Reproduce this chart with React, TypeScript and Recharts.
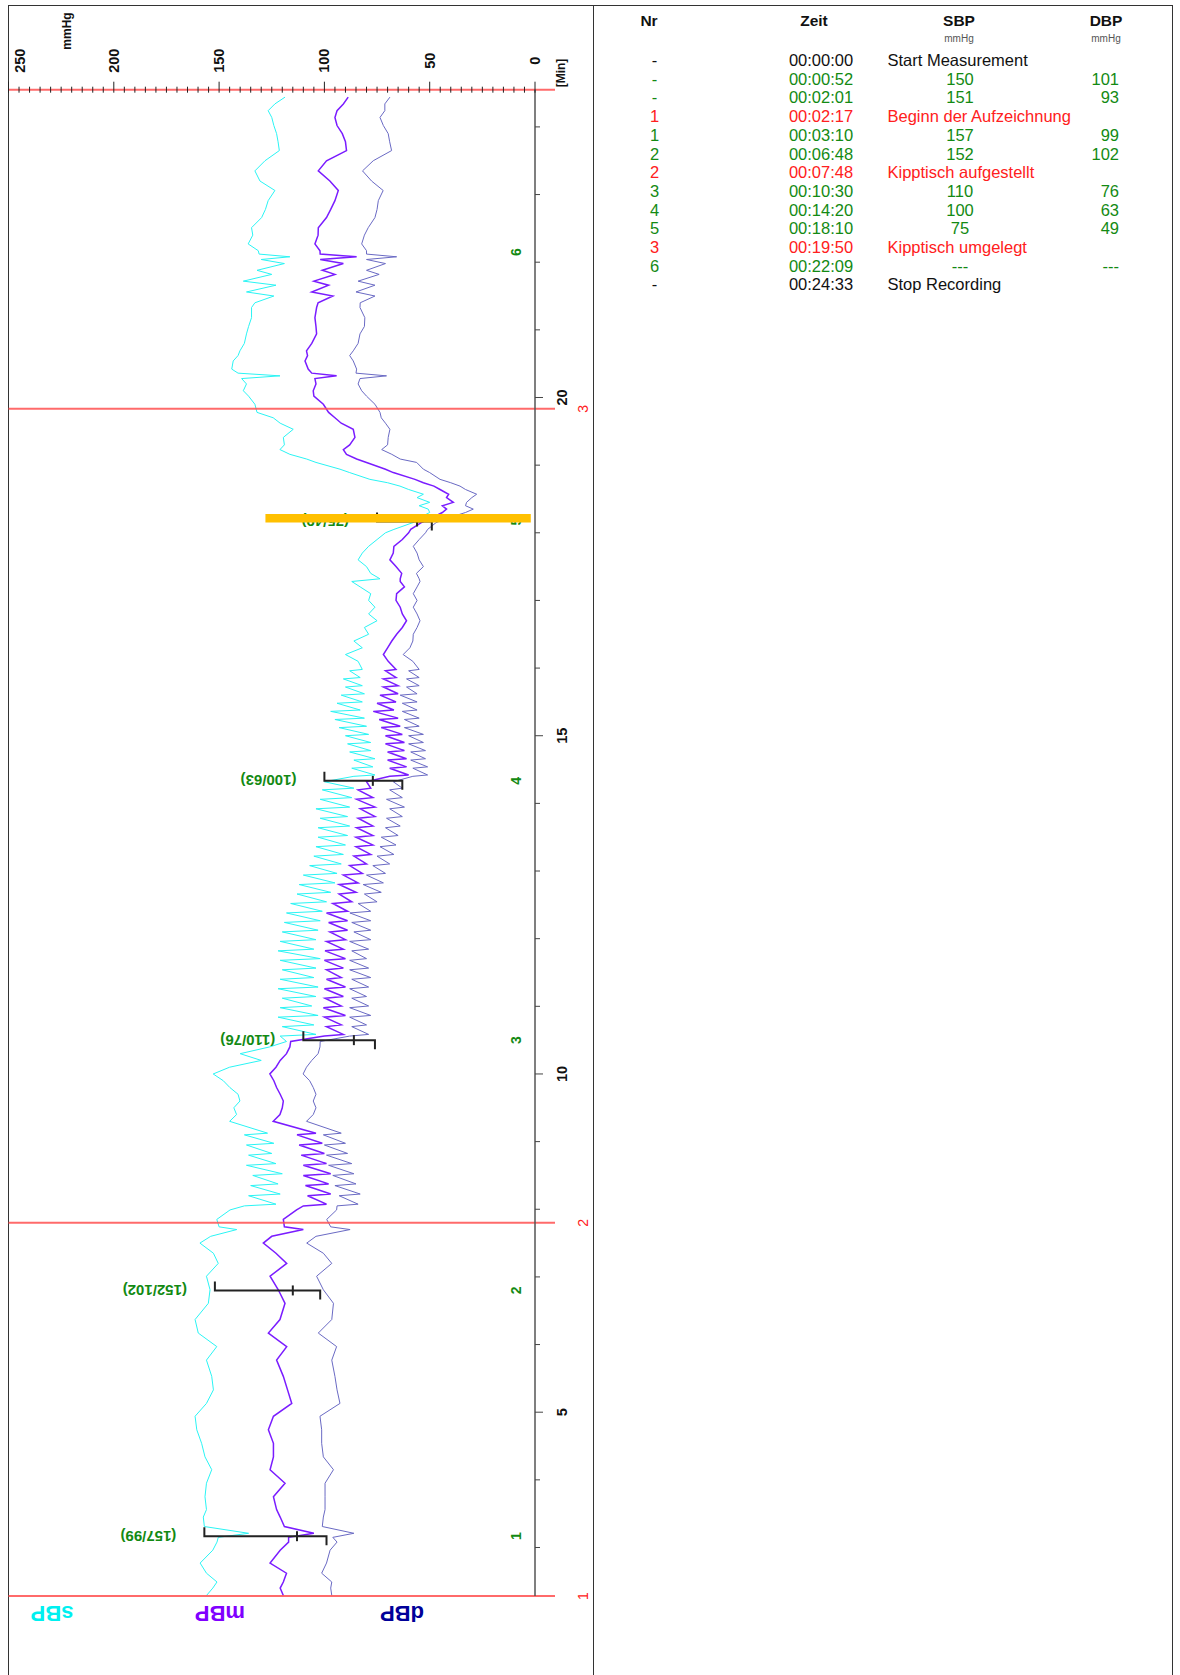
import React from "react";
import {
  ComposedChart,
  Line,
  XAxis,
  YAxis,
  ReferenceLine,
  ReferenceDot,
  Legend,
} from "recharts";

const FONT = '"Liberation Sans", Arial, Helvetica, sans-serif';
const GREEN = "#138a13";
const RED = "#ff2020";

// minutes since start of measurement
const TIME = [
  // 2.3 - 8 min, lying
  2.29, 2.4, 2.49, 2.62, 2.77, 2.96, 3.08, 3.15, 3.21, 3.31,
  3.45, 3.56, 3.75, 3.95, 4.15, 4.34, 4.54, 4.74, 4.94, 5.13,
  5.33, 5.53, 5.77, 5.97, 6.17, 6.37, 6.61, 6.81, 7.01, 7.2,
  7.35, 7.5, 7.6, 7.7, 7.74, 7.85, 7.99,
  // tilt table up
  8.05, 8.075, 8.2, 8.225, 8.35, 8.375, 8.5, 8.525, 8.65, 8.675,
  8.8, 8.825, 8.95, 8.975, 9.1, 9.125, 9.3, 9.4, 9.5, 9.6,
  9.7, 9.8, 9.9, 10, 10.1, 10.2, 10.3, 10.4, 10.48,
  10.56, 10.585, 10.7, 10.725, 10.84, 10.865, 10.98, 11.005, 11.12, 11.145,
  11.26, 11.285, 11.4, 11.425, 11.54, 11.565, 11.68, 11.705, 11.82, 11.845,
  11.96, 11.985, 12.1, 12.125, 12.24, 12.265, 12.38, 12.405, 12.52, 12.545,
  12.66, 12.685, 12.8, 12.825, 12.94, 12.965, 13.08, 13.105, 13.22, 13.245,
  13.36, 13.385, 13.5, 13.525, 13.64, 13.665, 13.78, 13.805, 13.92, 13.945,
  14.06, 14.085, 14.2, 14.225, 14.32,
  14.4, 14.42, 14.52, 14.54, 14.64, 14.66, 14.76, 14.78, 14.88, 14.9,
  15, 15.02, 15.12, 15.14, 15.24, 15.26, 15.36, 15.38, 15.48, 15.5,
  15.6, 15.62, 15.72, 15.74, 15.84, 15.86, 15.96, 15.98,
  16.1, 16.2, 16.3, 16.4, 16.5, 16.6, 16.7, 16.8, 16.9, 17,
  17.1, 17.2, 17.28, 17.32, 17.4, 17.5, 17.6, 17.7, 17.8, 17.9,
  18,
  18.05, 18.15, 18.22, 18.3, 18.35, 18.4, 18.45, 18.52, 18.57, 18.64,
  18.69, 18.74, 18.79, 18.89, 18.94, 19.04, 19.09,
  19.16, 19.23, 19.3, 19.41, 19.53, 19.62, 19.7, 19.78, 19.9, 20.02,
  20.1, 20.2, 20.28, 20.32, 20.36, 20.42, 20.54, 20.62, 20.69, 20.8,
  20.94, 21.05, 21.18, 21.33,
  // signal dropouts
  21.36, 21.4, 21.5, 21.53, 21.56, 21.66, 21.69, 21.72, 21.82, 21.85,
  21.88, 21.98, 22.01, 22.04, 22.08, 22.1,
  22.12, 22.17, 22.27, 22.4, 22.51, 22.66, 22.78, 22.91, 23.06, 23.2,
  23.35, 23.5, 23.65, 23.78, 23.9, 24.02, 24.14, 24.24, 24.34, 24.44,
];

const SBP = [
  156, 153, 151, 156, 159, 153, 151, 150.4, 136, 157,
  157.5, 156, 156.7, 156, 153.5, 156.7, 158.3, 160.6, 161.4, 156,
  152.7, 153.5, 156, 151.1, 159.9, 161.4, 155.1, 154.3, 156, 150.4,
  152.7, 159.1, 154, 141.6, 150, 151.1, 144.8,
  138, 123, 136, 121, 135, 122, 134, 120, 137, 123,
  136, 125, 137, 124, 138, 127, 145, 141.7, 143, 140.1,
  141, 144.9, 148, 152.8, 145, 130, 140, 126, 118,
  121, 104, 120, 105, 122, 103, 121, 106, 120, 104,
  122, 103, 121, 105, 120, 104, 121, 102, 122, 105,
  121, 104, 120, 103, 119, 102, 118, 101, 116, 99,
  113, 97, 112, 95, 110, 94, 107, 92, 105, 91,
  104, 90, 103, 89, 103, 88, 102, 89, 104, 88,
  102, 87, 101, 86, 100,
  86, 76, 87, 77, 86, 76, 88, 78, 89, 78,
  90, 79, 93, 80, 95, 81, 97, 83, 94, 82,
  92, 81, 90, 82, 91, 83, 88, 82,
  84, 90, 82, 86, 79, 81, 75, 79, 76, 79,
  78, 83, 87, 73.6, 78, 80, 84, 82, 79, 75,
  71,
  67, 58, 55, 50, 50.7, 55, 50, 56, 53, 60,
  64.1, 70, 78.4, 88, 92.6, 104, 108.4,
  116.4, 121.1, 119, 119.5, 114.8, 121, 124.3, 132, 133, 136,
  138.5, 137, 139.3, 121.1, 141, 144, 143.3, 141, 140.1, 138,
  137, 136, 134.6, 134.6,
  null, 133, 124, null, 137, 123, null, 138.5, 125, null,
  132, 119, null, 130, 116.4, null,
  131, 131.4, 136.2, 134, 134.6, 129.8, 128, 126.7, 123.5, 130.6,
  133, 128.2, 121.4, 122, 122.7, 124, 125, 126.7, 123.5, 118.7,
];

const MBP = [
  119.5, 121, 119.5, 118, 125.8, 121, 117, 117, 105, 119,
  121, 122.7, 124.2, 118.7, 125.8, 124.2, 124.2, 126.6, 124.2, 115.5,
  117.5, 119.5, 122.7, 117.9, 126.6, 121.1, 118.7, 121.9, 125.8, 117.9,
  123, 129, 125, 110, 119, 119.5, 113.2,
  110, 99, 108, 97, 109, 98, 110, 97, 110, 99,
  111, 100, 112, 101, 113, 104, 124.3, 121.1, 120, 119.5,
  121, 122.7, 124, 125.9, 123, 121, 118, 116.4, 116,
  100, 91, 99, 92, 100, 90, 100.5, 92, 99.7, 91,
  100, 90, 99, 92, 99, 91, 100, 90, 99.7, 91,
  99, 90, 97.4, 89, 98, 89, 99, 89, 96, 87,
  93, 85, 93, 84, 91, 82, 88, 80, 86, 78,
  85, 77, 85, 77, 84.7, 77, 84, 76, 83, 76,
  84.7, 77, 84, 78, 80,
  69, 60, 69, 61, 70, 61, 70, 62, 71, 62,
  71, 63, 73, 64, 74, 65, 76.8, 67, 75, 66,
  73.6, 65, 72, 65, 72, 66, 71, 66,
  69.7, 72, 70, 68, 65.7, 63, 61, 63, 64, 66,
  65.7, 62, 64, 64, 63.3, 66, 68.9, 67.3, 67, 63,
  60,
  59, 54, 49, 44, 42, 44, 38.8, 42, 41, 45.1,
  48, 53, 57, 67.3, 71, 80, 84.7,
  89.5, 91, 88, 85.5, 86.3, 92, 95, 98, 100.5, 105,
  105.3, 104, 104.5, 94.2, 106, 107.7, 109.2, 108, 108.5, 106,
  103.7, 104, 104.5, 103.7,
  null, 103, 96, null, 106, 98, null, 105, 95, null,
  101, 91, null, 102, 84.7, null,
  102, 102.1, 104.5, 103, 102.9, 99, 97, 95, 93.4, 97.4,
  102.9, 99, 89.5, 90, 91.5, 94, 95, 94, 91, 88.7,
];

const DBP = [
  96.5, 97, 96.5, 101.3, 99, 97.3, 94, 96, 86, 101,
  100.5, 99.7, 99.7, 99.7, 95.7, 100.5, 101.3, 101.3, 102.1, 92.6,
  94, 95, 96.5, 94.2, 102.9, 96.5, 95.7, 100.5, 103.7, 96.5,
  100.5, 108.4, 104, 87.8, 97, 98.9, 94.2,
  94, 84, 93, 83, 95, 85, 96, 86, 98, 87,
  99, 89, 100, 90, 100.5, 92, 108.5, 105.3, 104, 105.3,
  104, 105.3, 107, 110.1, 108.5, 106, 103, 102.1, 102,
  88, 79, 87, 80, 88, 78, 88, 79, 87, 80,
  88, 79, 87, 78, 88, 79, 88, 80, 87, 79,
  88, 78, 86, 78, 87, 78, 87.9, 78, 84, 75,
  81, 73, 81.6, 72, 80, 71, 77, 69, 75, 67,
  73.6, 66, 73, 65, 71, 64, 70.5, 63, 69, 62,
  70.5, 63, 69, 63, 67.3,
  58, 51, 58, 51, 59, 52, 59, 52, 60, 53,
  60, 53, 62, 55, 62, 55, 63, 56, 63, 56,
  64, 56, 61, 55, 61, 55, 60, 55,
  58, 62.6, 59.4, 58, 57.8, 56, 54.6, 56, 57.8, 56,
  57.8, 56, 54.6, 55, 56.3, 53, 55, 56, 57.8, 55,
  52,
  51, 47, 41, 33, 29.3, 33, 32.5, 30, 27.7, 33,
  35.6, 40, 45.1, 50, 53, 56.2, 64,
  68, 72.8, 70, 69.7, 68.9, 71, 73, 73.6, 76, 80,
  82.3, 84, 83.1, 70.5, 85, 84.7, 86.3, 88, 86.3, 84,
  83.1, 81, 80.8, 83.1,
  null, 83, 76, null, 85, 76, null, 84, 74, null,
  80, 71, null, 80, 65.7, null,
  80, 80, 82.3, 81, 79.2, 76, 75, 74.4, 72.1, 77.6,
  81.9, 76.8, 68.1, 69, 69.7, 72, 73.6, 71.3, 71.3, 68.9,
];

// cuff measurements
const MEAS_NR = [1, 2, 3, 4, 5, 6];
const MEAS_T = [3.167, 6.8, 10.5, 14.333, 18.167, 22.15];
const MEAS_SBP = [157, 152, 110, 100, 75, null];
const MEAS_DBP = [99, 102, 76, 63, 49, null];
const MEAS_MAP = [113, 115, 86, 77, 56, null];

// events (red lines)
const EVENT_NR = [1, 2, 3];
const EVENT_T = [2.283, 7.8, 19.833];
const STOP_T = 24.55;

// highlighted measurement (orange bar)
const MARK_T = 18.215;
const MARK_P = [128, 2];

const PRESSURE_LABELS = [0, 50, 100, 150, 200, 250];
const PRESSURE_TICKS = Array.from({ length: 51 }, (_, i) => i * 5);
const MINUTE_TICKS = [3, 4, 5, 6, 7, 8, 9, 10, 11, 12, 13, 14, 15, 16, 17, 18, 19, 20, 21, 22, 23, 24];
const MINUTE_LABELS = [5, 10, 15, 20];

const SERIES = ["sBP", "mBP", "dBP"];
const LINE_COLORS = ["#2af4f4", "#7a1cff", "#6a6ac4"];
const LEGEND_COLORS = ["#00f0f0", "#8000ff", "#000099"];

// table on the right
const ROW_NR = ["-", "-", "-", "1", "1", "2", "2", "3", "4", "5", "3", "6", "-"];
const ROW_TIME = [
  "00:00:00", "00:00:52", "00:02:01", "00:02:17", "00:03:10", "00:06:48", "00:07:48",
  "00:10:30", "00:14:20", "00:18:10", "00:19:50", "00:22:09", "00:24:33",
];
const ROW_SBP = [
  "Start Measurement", "150", "151", "Beginn der Aufzeichnung", "157", "152",
  "Kipptisch aufgestellt", "110", "100", "75", "Kipptisch umgelegt", "---", "Stop Recording",
];
const ROW_DBP = ["", "101", "93", "", "99", "102", "", "76", "63", "49", "", "---", ""];
const ROW_KIND = ["info", "meas", "meas", "event", "meas", "meas", "event", "meas", "meas", "meas", "event", "meas", "info"];

const rows = TIME.map((t, i) => ({ t, sbp: SBP[i], mbp: MBP[i], dbp: DBP[i] }));

function rotText(x: number, y: number, angle: number, label: any, style: any, anchor = "middle") {
  return (
    <text
      x={x}
      y={y}
      transform={`rotate(${angle}, ${x}, ${y})`}
      textAnchor={anchor}
      dominantBaseline="central"
      fontFamily={FONT}
      {...style}
    >
      {label}
    </text>
  );
}

function PressureTick(props: any) {
  const { x, y, payload } = props;
  const v = payload.value;
  const major = v % 50 === 0;
  return (
    <g>
      <line x1={x} x2={x} y1={y - (major ? 8 : 3)} y2={y + 3} stroke="#222" strokeWidth={1} />
      {PRESSURE_LABELS.includes(v) &&
        rotText(v === 250 ? x + 12 : x, y - 29, -90, v, { fontSize: 14.5, fontWeight: 700, fill: "#111" })}
    </g>
  );
}

function MinuteTick(props: any) {
  const { x, y, payload } = props;
  const v = payload.value;
  const major = MINUTE_LABELS.includes(v);
  return (
    <g>
      <line x1={x} x2={x + (major ? 8 : 5)} y1={y} y2={y} stroke="#444" strokeWidth={1} />
      {major && rotText(x + 27, y, -90, v, { fontSize: 14.5, fontWeight: 700, fill: "#111" })}
    </g>
  );
}

const eventLine = (p: any) => {
  const l = Math.min(p.x1, p.x2);
  const r = Math.max(p.x1, p.x2);
  return <line x1={l} x2={r + 20} y1={p.y1} y2={p.y2} stroke="#ff5050" strokeOpacity={0.85} strokeWidth={2} />;
};

const bracket = (p: any) => (
  <path
    d={`M${p.x1},${p.y1 - 9} L${p.x1},${p.y1} L${p.x2},${p.y2} L${p.x2},${p.y2 + 9}`}
    fill="none"
    stroke="#222"
    strokeWidth={2}
  />
);

function LegendBox() {
  const xs = [52, 220, 402];
  return (
    <div style={{ position: "relative", width: 600, height: 40 }}>
      {SERIES.map((name, i) => (
        <span
          key={name}
          style={{
            position: "absolute",
            left: xs[i],
            top: 17,
            transform: "translate(-50%, -50%) rotate(180deg)",
            fontFamily: FONT,
            fontWeight: 700,
            fontSize: 22,
            color: LEGEND_COLORS[i],
            whiteSpace: "nowrap",
          }}
        >
          {name}
        </span>
      ))}
    </div>
  );
}

function EventTable() {
  const rowY = (i: number) => 60 + i * 18.7;
  const colorOf = (k: string) => (k === "meas" ? GREEN : k === "event" ? RED : "#111");
  const cell = (left: number, top: number, align: string, text: string, extra: any = {}) => (
    <div
      style={{
        position: "absolute",
        left,
        top,
        transform: `translate(${align === "center" ? "-50%" : align === "right" ? "-100%" : "0"}, -50%)`,
        whiteSpace: "nowrap",
        fontFamily: FONT,
        fontSize: 16.5,
        lineHeight: "18px",
        ...extra,
      }}
    >
      {text}
    </div>
  );
  return (
    <>
      {cell(649, 21, "center", "Nr", { fontWeight: 700, fontSize: 15.5, color: "#111" })}
      {cell(814, 21, "center", "Zeit", { fontWeight: 700, fontSize: 15.5, color: "#111" })}
      {cell(959, 21, "center", "SBP", { fontWeight: 700, fontSize: 15.5, color: "#111" })}
      {cell(1106, 21, "center", "DBP", { fontWeight: 700, fontSize: 15.5, color: "#111" })}
      {cell(959, 38, "center", "mmHg", { fontSize: 10, color: "#555", lineHeight: "11px" })}
      {cell(1106, 38, "center", "mmHg", { fontSize: 10, color: "#555", lineHeight: "11px" })}
      {ROW_NR.map((nr, i) => {
        const c = colorOf(ROW_KIND[i]);
        const y = rowY(i);
        const isMeas = ROW_KIND[i] === "meas";
        return (
          <React.Fragment key={i}>
            {cell(654.5, y, "center", nr, { color: c })}
            {cell(821, y, "center", ROW_TIME[i], { color: c })}
            {isMeas
              ? cell(960, y, "center", ROW_SBP[i], { color: c })
              : cell(887.5, y, "left", ROW_SBP[i], { color: c })}
            {ROW_DBP[i] && cell(1119, y, "right", ROW_DBP[i], { color: c })}
          </React.Fragment>
        );
      })}
    </>
  );
}

export default function App() {
  return (
    <div
      style={{
        position: "absolute",
        left: 0,
        top: 0,
        width: 1180,
        height: 1675,
        overflow: "hidden",
        background: "#fff",
        fontFamily: FONT,
      }}
    >
      <div style={{ position: "absolute", left: 8, top: 5, width: 1163, height: 1700, border: "1px solid #333" }} />
      <div style={{ position: "absolute", left: 593, top: 5, width: 1, height: 1700, background: "#333" }} />

      <div style={{ position: "absolute", left: 0, top: 0, width: 600, height: 1675 }}>
        <ComposedChart
          width={600}
          height={1675}
          data={rows}
          layout="vertical"
          margin={{ top: 29.7, right: 0, bottom: 79, left: 8.5 }}
        >
          <XAxis
            type="number"
            domain={[0, 250]}
            reversed
            orientation="top"
            height={60}
            ticks={PRESSURE_TICKS}
            interval={0}
            tickSize={0}
            tickMargin={0}
            axisLine={false}
            tickLine={false}
            allowDataOverflow
            tick={(p: any) => <PressureTick {...p} />}
          />
          <YAxis
            type="number"
            dataKey="t"
            domain={[2.283, STOP_T]}
            reversed
            orientation="right"
            width={65}
            ticks={MINUTE_TICKS}
            interval={0}
            tickSize={0}
            tickMargin={0}
            tickLine={false}
            allowDataOverflow
            axisLine={{ stroke: "#555", strokeWidth: 1.5 }}
            tick={(p: any) => <MinuteTick {...p} />}
          />
          <Legend
            layout="horizontal"
            verticalAlign="middle"
            align="center"
            wrapperStyle={{ left: 0, top: 1596, width: 600, height: 40 }}
            content={() => <LegendBox />}
          />

          <Line dataKey="sbp" name="sBP" stroke={LINE_COLORS[0]} strokeWidth={1} dot={false} isAnimationActive={false} />
          <Line dataKey="mbp" name="mBP" stroke={LINE_COLORS[1]} strokeWidth={1.5} dot={false} isAnimationActive={false} />
          <Line dataKey="dbp" name="dBP" stroke={LINE_COLORS[2]} strokeWidth={1} dot={false} isAnimationActive={false} />

          {EVENT_T.map((t) => (
            <ReferenceLine key={`ev${t}`} y={t} ifOverflow="visible" shape={eventLine} />
          ))}
          <ReferenceLine y={STOP_T} ifOverflow="visible" shape={eventLine} />
          {EVENT_T.map((t, i) => (
            <ReferenceDot
              key={`evl${t}`}
              x={0}
              y={t}
              r={0}
              ifOverflow="visible"
              shape={(p: any) => rotText(p.cx + 48, p.cy, -90, EVENT_NR[i], { fontSize: 14, fill: RED })}
            />
          ))}

          {MEAS_T.map((t, i) =>
            MEAS_SBP[i] == null ? null : (
              <ReferenceLine
                key={`br${t}`}
                segment={[
                  { x: MEAS_SBP[i], y: t },
                  { x: MEAS_DBP[i], y: t },
                ]}
                ifOverflow="visible"
                shape={bracket}
              />
            )
          )}
          {MEAS_T.map((t, i) =>
            MEAS_MAP[i] == null ? null : (
              <ReferenceDot
                key={`map${t}`}
                x={MEAS_MAP[i]}
                y={t}
                r={0}
                ifOverflow="visible"
                shape={(p: any) => (
                  <line x1={p.cx} x2={p.cx} y1={p.cy - 5} y2={p.cy + 5} stroke="#222" strokeWidth={2} />
                )}
              />
            )
          )}
          {MEAS_T.map((t, i) =>
            MEAS_SBP[i] == null ? null : (
              <ReferenceDot
                key={`lab${t}`}
                x={MEAS_SBP[i]}
                y={t}
                r={0}
                ifOverflow="visible"
                shape={(p: any) =>
                  rotText(p.cx - 28, p.cy, 180, `(${MEAS_SBP[i]}/${MEAS_DBP[i]})`, {
                    fontSize: 15,
                    fontWeight: 700,
                    fill: GREEN,
                  }, "start")
                }
              />
            )
          )}
          {MEAS_T.map((t, i) => (
            <ReferenceDot
              key={`nr${t}`}
              x={0}
              y={t}
              r={0}
              ifOverflow="visible"
              shape={(p: any) => rotText(p.cx - 19, p.cy, -90, MEAS_NR[i], { fontSize: 14, fontWeight: 700, fill: GREEN })}
            />
          ))}

          <ReferenceLine
            segment={[
              { x: MARK_P[0], y: MARK_T },
              { x: MARK_P[1], y: MARK_T },
            ]}
            ifOverflow="visible"
            stroke="#ffc000"
            strokeWidth={8.5}
            zIndex={900}
          />
        </ComposedChart>
      </div>

      <div
        style={{
          position: "absolute",
          left: 67,
          top: 31,
          transform: "translate(-50%, -50%) rotate(-90deg)",
          fontWeight: 700,
          fontSize: 12,
          color: "#111",
          whiteSpace: "nowrap",
        }}
      >
        mmHg
      </div>
      <div
        style={{
          position: "absolute",
          left: 561,
          top: 73,
          transform: "translate(-50%, -50%) rotate(-90deg)",
          fontWeight: 700,
          fontSize: 12,
          color: "#111",
          whiteSpace: "nowrap",
        }}
      >
        [Min]
      </div>

      <EventTable />
    </div>
  );
}
